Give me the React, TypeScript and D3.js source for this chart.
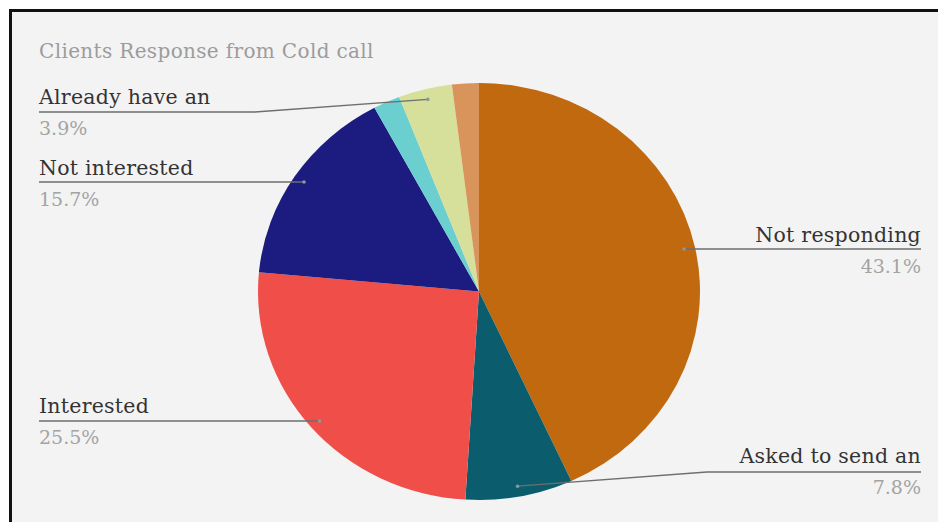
import React from "react";
import * as d3 from "d3";

const categories = ["Not responding", "Asked to send an", "Interested", "Not interested", "Other", "Already have an", "Other 2"];
const counts = [22, 4, 13, 8, 1, 2, 1];
const percentLabels = ["43.1%", "7.8%", "25.5%", "15.7%", "", "3.9%", ""];
const sliceColors = ["#c0690f", "#0b5d6e", "#f04f49", "#1b1b80", "#6ccfcf", "#d7e09b", "#d9945b"];
const title = "Clients Response from Cold call";

const W = 938, H = 522;
const cx = 479, cy = 291.5, rx = 221, ry = 208.5;

// label layout: side, text x, label baseline y, line y, elbow x (null = straight)
const labelLayout: Record<number, { side: "left" | "right"; x: number; y: number; lineY: number; elbow: number | null }> = {
  0: { side: "right", x: 921, y: 242, lineY: 249, elbow: null },
  1: { side: "right", x: 921, y: 463, lineY: 472, elbow: 707 },
  2: { side: "left", x: 39, y: 413, lineY: 421, elbow: null },
  3: { side: "left", x: 39, y: 175, lineY: 182, elbow: null },
  5: { side: "left", x: 39, y: 104, lineY: 112, elbow: 255 },
};

export default function App() {
  const pie = d3.pie<number>().value((d) => d).sort(null).startAngle(0).endAngle(2 * Math.PI);
  const arcs = pie(counts);
  const arcGen = d3.arc<d3.PieArcDatum<number>>().innerRadius(0).outerRadius(ry);
  const sx = rx / ry;

  const anchor = (a: d3.PieArcDatum<number>) => {
    const m = (a.startAngle + a.endAngle) / 2;
    const r = 0.95;
    return [cx + Math.sin(m) * rx * r, cy - Math.cos(m) * ry * r];
  };

  return (
    <div style={{ position: "fixed", left: 0, top: 0 }}>
      <svg width={W} height={H} style={{ display: "block" }}>
        <rect x={0} y={0} width={W} height={H} fill="#ffffff" />
        <rect x={10.5} y={10.5} width={W + 20} height={H + 20} fill="#f3f3f3" stroke="#111" strokeWidth={3} />
        <text x={39} y={58} fontFamily="DejaVu Serif" fontSize={20} letterSpacing={0.35} fill="#9c9c9c">{title}</text>
        <g transform={`translate(${cx},${cy}) scale(${sx},1)`}>
          {arcs.map((a, i) => (
            <path key={i} d={arcGen(a) || ""} fill={sliceColors[i]} />
          ))}
        </g>
        {arcs.map((a, i) => {
          const L = labelLayout[i];
          if (!L) return null;
          const [ax, ay] = anchor(a);
          const lineEnd = L.x;
          let pts: [number, number][];
          if (L.elbow === null) {
            pts = [[lineEnd, L.lineY], [ax, L.lineY]];
          } else {
            pts = [[lineEnd, L.lineY], [L.elbow, L.lineY], [ax, ay]];
          }
          const line = d3.line()(pts) || "";
          const anchorAttr = L.side === "left" ? "start" : "end";
          return (
            <g key={i}>
              <path d={line} fill="none" stroke="#6e6e6e" strokeWidth={1.3} />
              <circle cx={ax} cy={L.elbow === null ? L.lineY : ay} r={1.8} fill="#8a9a9a" />
              <text x={L.x} y={L.y} textAnchor={anchorAttr} fontFamily="DejaVu Serif" fontSize={20.5} letterSpacing={0.25} fill="#333">{categories[i]}</text>
              <text x={L.x} y={L.y + 31} textAnchor={anchorAttr} fontFamily="DejaVu Serif" fontSize={19} fill="#a3a3a3">{percentLabels[i]}</text>
            </g>
          );
        })}
      </svg>
    </div>
  );
}
